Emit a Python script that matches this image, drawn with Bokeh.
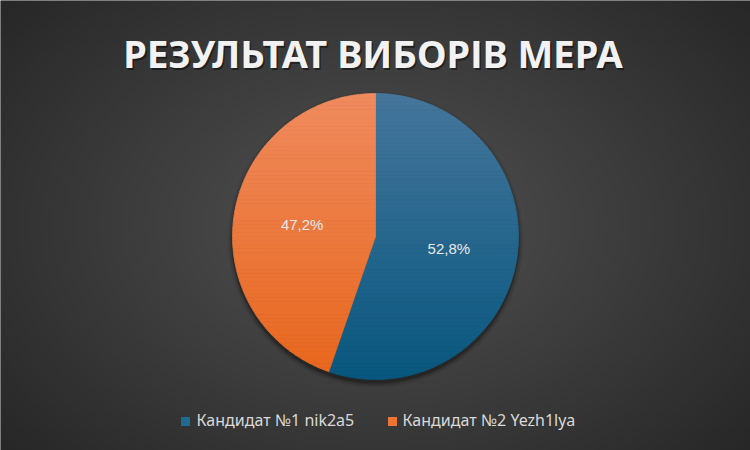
import numpy as np
from bokeh.plotting import figure
from bokeh.models import Range1d
from bokeh.core.properties import value
from bokeh.embed import file_html
from bokeh.resources import INLINE

# ---- data ----
title_text = "РЕЗУЛЬТАТ ВИБОРІВ МЕРА"
candidates = ["Кандидат №1 nik2a5", "Кандидат №2 Yezh1lya"]
slice_shares = [55.3, 44.7]          # slice sizes as drawn in the picture
pct_labels = ["52,8%", "47,2%"]      # data labels as printed
top_colors = [(0x46, 0x76, 0x9c), (0xf0, 0x8b, 0x5e)]
bottom_colors = [(0x08, 0x57, 0x7f), (0xe8, 0x66, 0x1c)]
legend_colors = ["#1f6a92", "#ee7433"]

W, H = 750, 450
p = figure(width=W, height=H, output_backend="svg", toolbar_location=None,
           x_range=Range1d(0, W), y_range=Range1d(0, H), min_border=0)
p.axis.visible = False
p.grid.visible = False
p.outline_line_color = None
p.background_fill_color = "#3a3a3a"
p.border_fill_color = "#3a3a3a"

# ---- radial gradient background ----
yy, xx = np.mgrid[0:H, 0:W]
cx0, cy0 = W / 2, H / 2
d = np.sqrt(((xx - cx0) / (W * 0.62)) ** 2 + ((yy - cy0) / (H * 0.62 * 1.15)) ** 2)
d = np.clip(d / np.sqrt(0.5 ** 2 / 0.62 ** 2 + (0.5 / (0.62 * 1.15)) ** 2), 0, 1)
lum = (0x52 * (1 - d) + 0x27 * d).astype(np.uint32)
img = (255 << 24) | (lum << 16) | (lum << 8) | lum
p.image_rgba(image=[img.astype(np.uint32)], x=0, y=0, dw=W, dh=H)

# ---- pie geometry ----
cx, cy, r = 375.0, 214.0, 143.0

# shadow
for dr, a in [(5, 0.05), (3.5, 0.08), (2, 0.12), (1, 0.18)]:
    p.circle(x=[cx], y=[cy - 3], radius=r + dr, fill_color="black", fill_alpha=a, line_color=None)


def clip(poly, yv, keep_above):
    out = []
    n = len(poly)
    for i in range(n):
        a = poly[i]
        b = poly[(i + 1) % n]
        ina = a[1] >= yv if keep_above else a[1] <= yv
        inb = b[1] >= yv if keep_above else b[1] <= yv
        if ina:
            out.append(a)
        if ina != inb:
            t = (yv - a[1]) / (b[1] - a[1])
            out.append((a[0] + t * (b[0] - a[0]), yv))
    return out


start = np.pi / 2
nb = 70
edges = np.linspace(cy - r, cy + r, nb + 1)
for i, v in enumerate(slice_shares):
    end = start - 2 * np.pi * v / 100.0
    th = np.linspace(start, end, 300)
    poly = [(cx, cy)] + [(cx + r * np.cos(t), cy + r * np.sin(t)) for t in th]
    xs, ys, cols = [], [], []
    for b in range(nb):
        lo, hi = edges[b], edges[b + 1]
        pg = clip(clip(poly, lo, True), hi, False)
        if len(pg) < 3:
            continue
        f = ((lo + hi) / 2 - (cy - r)) / (2 * r)  # 0 bottom, 1 top
        c = tuple(int(round(bottom_colors[i][j] * (1 - f) + top_colors[i][j] * f)) for j in range(3))
        col = "#%02x%02x%02x" % c
        xs.append([q[0] for q in pg])
        ys.append([q[1] for q in pg])
        cols.append(col)
    p.patches(xs=xs, ys=ys, fill_color=cols, line_color=cols, line_width=0.8)
    mid = (start + end) / 2
    lr = r * 0.52
    p.text(x=[cx + lr * np.cos(mid)], y=[cy + lr * np.sin(mid)], text=[pct_labels[i]],
           text_align="center", text_baseline="middle", text_color="#e8e8e8",
           text_font=value("Liberation Sans"), text_font_size="15px")
    start = end

# ---- title ----
ty = H - 52.5
tx = 372.5
p.text(x=[tx + 1.5], y=[ty - 2], text=[title_text], text_align="center", text_baseline="middle",
       text_color="black", text_alpha=0.45, text_font=value("Noto Sans"), text_font_style="bold",
       text_font_size="38px")
p.text(x=[tx], y=[ty], text=[title_text], text_align="center", text_baseline="middle",
       text_color="#f2f2f2", text_font=value("Noto Sans"), text_font_style="bold",
       text_font_size="38px")

# ---- legend ----
sq_x = [185, 392]
txt_x = [196, 402]
p.scatter(x=sq_x, y=[29, 29], marker="square", size=9, fill_color=legend_colors, line_color=None)
p.text(x=txt_x, y=[30.5, 30.5], text=candidates, text_baseline="middle",
       text_color="#d9d9d9", text_font=value("Noto Sans"), text_font_size="16px")

open("out.html", "w").write(file_html(p, INLINE))
